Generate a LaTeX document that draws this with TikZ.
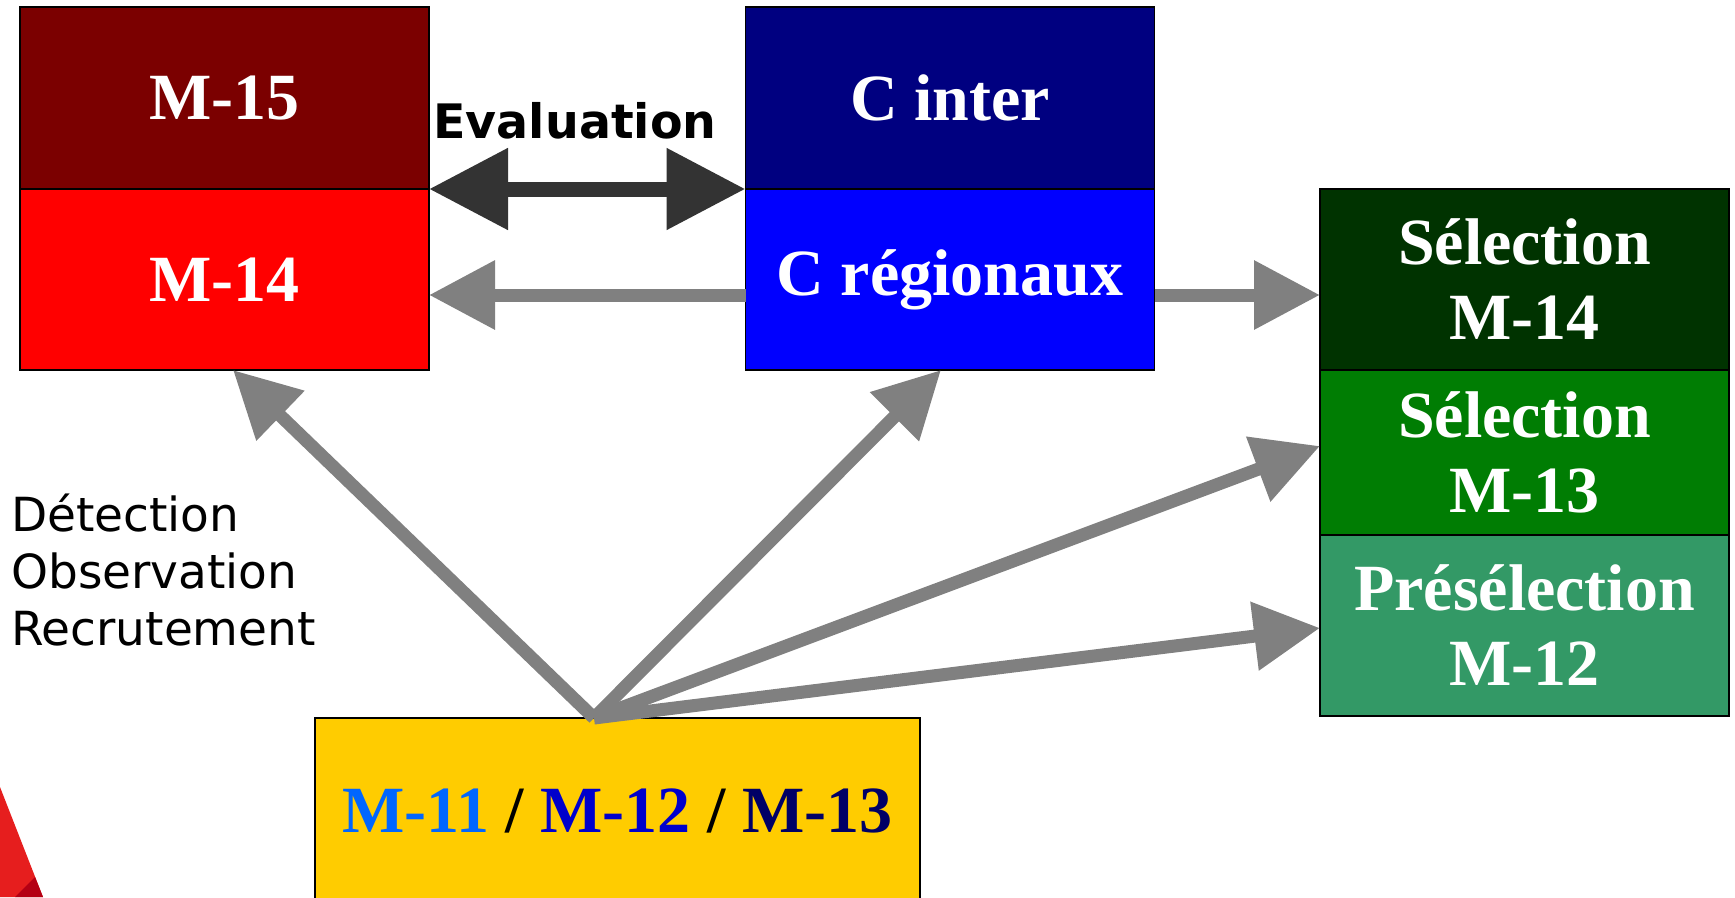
\documentclass[tikz,border=0pt]{standalone}
\usepackage{fontspec}
\setmainfont{Liberation Serif}
\newfontfamily\dejavu{DejaVu Sans}
\usetikzlibrary{arrows.meta}
\definecolor{cmquinze}{HTML}{7B0000}
\definecolor{cmquatorze}{HTML}{FF0000}
\definecolor{cinterc}{HTML}{000080}
\definecolor{cregc}{HTML}{0000FF}
\definecolor{selqc}{HTML}{003300}
\definecolor{seltc}{HTML}{007D03}
\definecolor{prec}{HTML}{339966}
\definecolor{yelc}{HTML}{FFCC00}
\definecolor{txtonze}{HTML}{0066FF}
\definecolor{txtdouze}{HTML}{0000CC}
\definecolor{txttreize}{HTML}{000066}
\definecolor{arrgray}{HTML}{808080}
\definecolor{arrdark}{HTML}{333333}
\definecolor{logored}{HTML}{E61E1E}
\definecolor{logodark}{HTML}{B40014}
\begin{document}
\begin{tikzpicture}[x=1pt,y=-1pt,
  box/.style={draw=black,line width=1.5pt,inner sep=0pt,outer sep=0pt,
    minimum width=409pt,text=white,align=center,
    font=\fontsize{66}{75}\selectfont\bfseries},
  garrow/.style={draw=arrgray,line width=13pt,-{Triangle[length=66pt,width=66pt]}},
  earrow/.style={draw=arrdark,line width=15pt,{Triangle[length=79pt,width=78pt]}-{Triangle[length=79pt,width=78pt]}},
]
\useasboundingbox (0,0) rectangle (1735,897);
% partial logo
\fill[logored] (0,787) -- (43,897) -- (0,897) -- cycle;
\fill[logodark] (35,877) -- (43,897) -- (15,897) -- cycle;

% boxes
\node[box,fill=cmquinze,minimum height=182pt] (m15) at (224.5,98) {M-15};
\node[box,fill=cmquatorze,minimum height=181pt] (m14) at (224.5,279.5) {M-14};
\node[box,fill=cinterc,minimum height=182pt] (cinter) at (950,98) {C inter};
\node[box,fill=cregc,minimum height=181pt] (creg) at (950,279.5) {C régionaux};
\node[box,fill=selqc,minimum height=181pt] (sel14) at (1524.5,279.5) {Sélection\\M-14};
\node[box,fill=seltc,minimum height=165pt] (sel13) at (1524.5,452.5) {Sélection\\M-13};
\node[box,fill=prec,minimum height=181pt] (pre12) at (1524.5,625.5) {Présélection\\M-12};
\node[box,fill=yelc,minimum width=605pt,minimum height=186pt,text=black] (yel) at (617.5,811)
  {\textcolor{txtonze}{M-11} / \textcolor{txtdouze}{M-12} / \textcolor{txttreize}{M-13}};

% texts
\node[anchor=base,inner sep=0pt,font=\dejavu\bfseries\fontsize{47.5}{55}\selectfont] (ev) at (575,138) {Evaluation};
\node[anchor=base west,inner sep=0pt,align=left,font=\dejavu\fontsize{47}{57}\selectfont] (lt) at (11,645)
  {Détection\\Observation\\Recrutement};

% connectors
\coordinate (src) at ([xshift=-23.5pt]yel.north);
\draw[earrow] (m15.south east) -- (cinter.south west);
\draw[garrow] ([yshift=-15.5pt]creg.west) -- ([yshift=-15.5pt]m14.east);
\draw[garrow] ([yshift=-15.5pt]creg.east) -- ([yshift=-15.5pt]sel14.west);
\draw[garrow] (src) -- ([xshift=8.5pt]m14.south);
\draw[garrow] (src) -- ([xshift=-9pt]creg.south);
\draw[garrow] (src) -- ([yshift=6.5pt]sel13.west);
\draw[garrow] (src) -- ([yshift=-2.5pt]pre12.west);
\end{tikzpicture}
\end{document}
